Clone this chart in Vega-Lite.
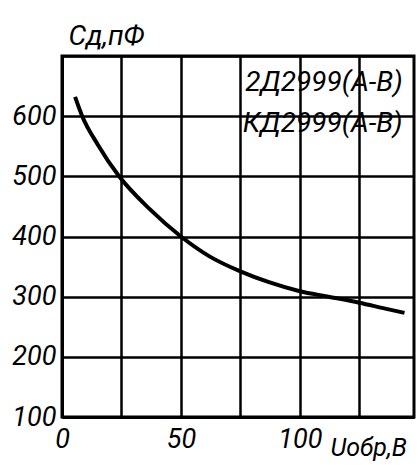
{
  "$schema": "https://vega.github.io/schema/vega-lite/v6.json",
  "width": 352,
  "height": 361,
  "autosize": {"type": "none"},
  "padding": {"left": 62, "top": 56, "right": 4, "bottom": 48},
  "background": "#ffffff",
  "config": {
    "view": {"stroke": "#000000", "strokeWidth": 3},
    "font": "Roboto"
  },
  "datasets": {
    "curve": [
      {"u": 5.5, "c": 632},
      {"u": 8.5, "c": 600},
      {"u": 15, "c": 553},
      {"u": 24, "c": 500},
      {"u": 37, "c": 445},
      {"u": 50, "c": 400},
      {"u": 62, "c": 367},
      {"u": 75, "c": 342},
      {"u": 87, "c": 324},
      {"u": 100, "c": 309},
      {"u": 112, "c": 300},
      {"u": 125, "c": 290},
      {"u": 135, "c": 281},
      {"u": 144, "c": 273}
    ],
    "labels": [
      {"u": 77, "c": 655, "text": "2Д2999(А-В)"},
      {"u": 76, "c": 587, "text": "КД2999(А-В)"}
    ]
  },
  "layer": [
    {
      "data": {"name": "curve"},
      "mark": {"type": "line", "color": "#000000", "strokeWidth": 4, "interpolate": "monotone"},
      "encoding": {
        "x": {
          "field": "u", "type": "quantitative",
          "scale": {"domain": [0, 148], "nice": false, "zero": false},
          "axis": {
            "values": [0, 25, 50, 75, 100, 125],
            "labelExpr": "datum.value % 50 == 0 ? datum.label : ''",
            "grid": true, "gridColor": "#000000", "gridWidth": 2.5, "gridOpacity": 1,
            "ticks": false, "domain": true, "domainColor": "#000000", "domainWidth": 3,
            "labelFont": "Roboto",
            "labelFontStyle": "italic", "labelFontSize": 27, "labelColor": "#000000",
            "labelPadding": 9, "labelFlush": false,
            "title": "Uобр,В",
            "titleFont": "Roboto",
            "titleFontStyle": "italic", "titleFontWeight": "normal", "titleFontSize": 25,
            "titleColor": "#000000", "titleAlign": "left", "titleBaseline": "alphabetic",
            "titleX": 268, "titleY": 38
          }
        },
        "y": {
          "field": "c", "type": "quantitative",
          "scale": {"domain": [100, 700], "nice": false, "zero": false},
          "axis": {
            "values": [100, 200, 300, 400, 500, 600, 700],
            "labelExpr": "datum.value < 700 ? datum.label : ''",
            "grid": true, "gridColor": "#000000", "gridWidth": 2.5, "gridOpacity": 1,
            "ticks": false, "domain": true, "domainColor": "#000000", "domainWidth": 3,
            "labelFont": "Roboto",
            "labelFontStyle": "italic", "labelFontSize": 27, "labelColor": "#000000",
            "labelPadding": 6, "labelFlush": false, "labelBaseline": "middle",
            "title": "Cд,пФ",
            "titleFont": "Roboto",
            "titleFontStyle": "italic", "titleFontWeight": "normal", "titleFontSize": 28,
            "titleColor": "#000000", "titleAngle": 0, "titleAlign": "left",
            "titleBaseline": "alphabetic", "titleX": 6, "titleY": -12
          }
        }
      }
    },
    {
      "data": {"name": "labels"},
      "mark": {
        "type": "text", "align": "left", "baseline": "middle",
        "fontStyle": "italic", "fontSize": 28, "color": "#000000",
        "font": "Roboto"
      },
      "encoding": {
        "x": {"field": "u", "type": "quantitative"},
        "y": {"field": "c", "type": "quantitative"},
        "text": {"field": "text"}
      }
    }
  ]
}
